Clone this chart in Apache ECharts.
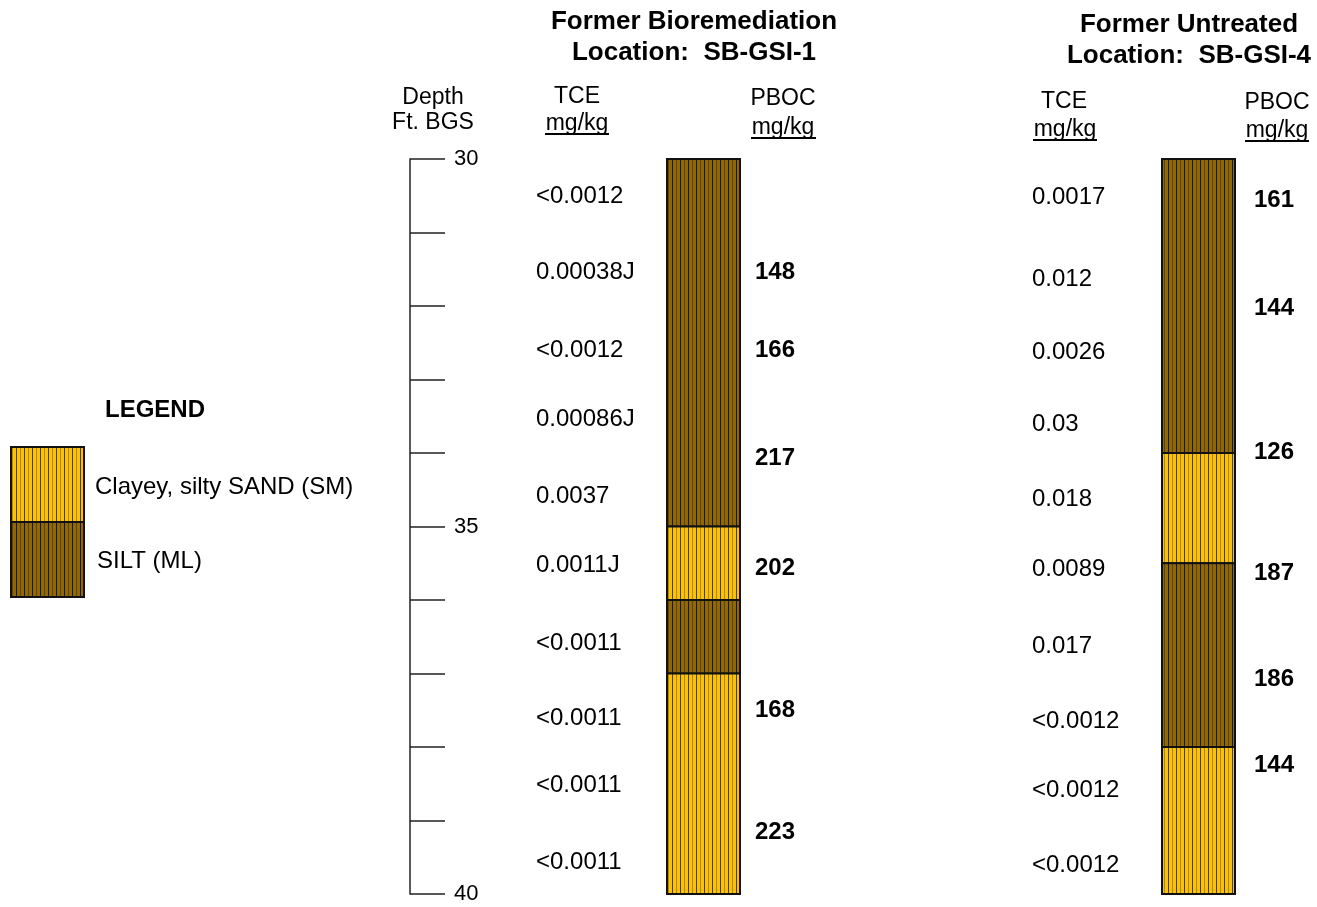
<!DOCTYPE html>
<html><head><meta charset="utf-8">
<script src="https://cdn.jsdelivr.net/npm/echarts@6/dist/echarts.min.js"></script>
<style>html,body{margin:0;padding:0;background:#fff}#c{width:1317px;height:907px}</style>
</head><body><div id="c"></div>
<script>
// ---------- data ----------
const depthMin = 30, depthMax = 40, depthStep = 1;
const depthLabels = ['30', '35', '40'];

const sb1LayerTop    = [30, 35, 36, 37];
const sb1LayerBottom = [35, 36, 37, 40];
const sb1LayerSoil   = ['ML', 'SM', 'ML', 'SM'];
const sb1TceDepth = [30.48, 31.52, 32.57, 33.52, 34.56, 35.50, 36.56, 37.58, 38.50, 39.54];
const sb1TceText  = ['<0.0012', '0.00038J', '<0.0012', '0.00086J', '0.0037', '0.0011J', '<0.0011', '<0.0011', '<0.0011', '<0.0011'];
const sb1PbocDepth = [31.52, 32.58, 34.04, 35.54, 37.47, 39.13];
const sb1PbocValue = [148, 166, 217, 202, 168, 223];

const sb4LayerTop    = [30, 34, 35.5, 38];
const sb4LayerBottom = [34, 35.5, 38, 40];
const sb4LayerSoil   = ['ML', 'SM', 'ML', 'SM'];
const sb4TceDepth = [30.50, 31.61, 32.61, 33.58, 34.61, 35.55, 36.61, 37.62, 38.56, 39.59];
const sb4TceText  = ['0.0017', '0.012', '0.0026', '0.03', '0.018', '0.0089', '0.017', '<0.0012', '<0.0012', '<0.0012'];
const sb4PbocDepth = [30.54, 32.01, 33.97, 35.61, 37.05, 38.22];
const sb4PbocValue = [161, 144, 126, 187, 186, 144];

const legendItems = ['Clayey, silty SAND (SM)', 'SILT (ML)'];

// ---------- layout / style ----------
const FONT = '"Liberation Sans", Arial, sans-serif';
const TY = 2; // vertical text nudge
const layout = {
  sb1: { colX0: 667, colX1: 740, tceX: 536, pbocX: 755 },
  sb4: { colX0: 1162, colX1: 1235, tceX: 1032, pbocX: 1254 }
};

function makePattern(base, line1, line2) {
  const c = document.createElement('canvas');
  c.width = 8; c.height = 4;
  const g = c.getContext('2d');
  g.fillStyle = base; g.fillRect(0, 0, 8, 4);
  g.fillStyle = line1; g.fillRect(0, 0, 1, 4);
  g.fillStyle = line2; g.fillRect(4, 0, 1, 4);
  return c;
}
const patCanvas = {
  SM: makePattern('#FFC000', '#5a4300', '#b88a00'),
  ML: makePattern('#936800', '#241900', '#624500')
};
function patFill(soil) { return { type: 'pattern', image: patCanvas[soil], repeat: 'repeat' }; }

function layerSeries(tops, bottoms, soils, lay) {
  return {
    type: 'custom',
    coordinateSystem: 'cartesian2d',
    silent: true,
    data: tops.map((t, i) => [t, bottoms[i], i]),
    renderItem: function (params, api) {
      const i = api.value(2);
      const p0 = api.coord([lay.colX0, api.value(0)]);
      const p1 = api.coord([lay.colX1, api.value(1)]);
      return {
        type: 'rect',
        shape: { x: p0[0], y: p0[1], width: p1[0] - p0[0], height: p1[1] - p0[1] },
        style: { fill: patFill(soils[i]), stroke: '#111', lineWidth: 2 }
      };
    }
  };
}

function textSeries(depths, texts, x, bold) {
  return {
    type: 'custom',
    coordinateSystem: 'cartesian2d',
    silent: true,
    data: depths.map((d, i) => [d, i]),
    renderItem: function (params, api) {
      const p = api.coord([x, api.value(0)]);
      return {
        type: 'text',
        x: p[0], y: p[1] + TY,
        style: {
          text: String(texts[api.value(1)]),
          fill: '#000',
          font: (bold ? 'bold ' : '') + '24px ' + FONT,
          align: 'left', verticalAlign: 'middle'
        }
      };
    }
  };
}

function gText(text, x, y, size, bold, align) {
  return {
    type: 'text', x: x, y: y + TY, silent: true,
    style: { text: text, fill: '#000', font: (bold ? 'bold ' : '') + size + 'px ' + FONT,
             align: align || 'center', verticalAlign: 'middle' }
  };
}
function gLine(x1, x2, y) {
  return { type: 'line', silent: true, shape: { x1: x1, y1: y, x2: x2, y2: y },
           style: { stroke: '#000', lineWidth: 2 } };
}

const chart = echarts.init(document.getElementById('c'), null, { renderer: 'canvas' });
chart.setOption({
  backgroundColor: '#fff',
  animation: false,
  grid: { left: 410, top: 159, width: 907, height: 735, containLabel: false },
  xAxis: { type: 'value', min: 410, max: 1317, show: false },
  yAxis: {
    type: 'value', inverse: true, min: depthMin, max: depthMax, interval: depthStep,
    position: 'left',
    axisLine: { show: true, lineStyle: { color: '#222', width: 1.5 } },
    axisTick: { show: true, inside: true, length: 35, lineStyle: { color: '#222', width: 1.5 } },
    splitLine: { show: false },
    axisLabel: {
      inside: true, margin: 44, color: '#000', fontSize: 22, fontFamily: FONT,
      formatter: v => depthLabels.includes(String(v)) ? String(v) : ''
    }
  },
  series: [
    layerSeries(sb1LayerTop, sb1LayerBottom, sb1LayerSoil, layout.sb1),
    layerSeries(sb4LayerTop, sb4LayerBottom, sb4LayerSoil, layout.sb4),
    textSeries(sb1TceDepth, sb1TceText, layout.sb1.tceX, false),
    textSeries(sb1PbocDepth, sb1PbocValue, layout.sb1.pbocX, true),
    textSeries(sb4TceDepth, sb4TceText, layout.sb4.tceX, false),
    textSeries(sb4PbocDepth, sb4PbocValue, layout.sb4.pbocX, true)
  ],
  graphic: [
    gText('Former Bioremediation', 694, 20, 26, true),
    gText('Location:  SB-GSI-1', 694, 51, 26, true),
    gText('Former Untreated', 1189, 23, 26, true),
    gText('Location:  SB-GSI-4', 1189, 54, 26, true),
    gText('Depth', 433, 96, 23, false),
    gText('Ft. BGS', 433, 121, 23, false),
    gText('TCE', 577, 95, 23, false),
    gText('mg/kg', 577, 122, 23, false), gLine(545, 609, 134),
    gText('PBOC', 783, 97, 23, false),
    gText('mg/kg', 783, 126, 23, false), gLine(751, 816, 138),
    gText('TCE', 1064, 100, 23, false),
    gText('mg/kg', 1065, 128, 23, false), gLine(1033, 1097, 140),
    gText('PBOC', 1277, 101, 23, false),
    gText('mg/kg', 1277, 129, 23, false), gLine(1245, 1309, 141),
    gText('LEGEND', 155, 408, 24, true),
    { type: 'rect', silent: true, shape: { x: 11, y: 447, width: 73, height: 75 },
      style: { fill: patFill('SM'), stroke: '#111', lineWidth: 2 } },
    { type: 'rect', silent: true, shape: { x: 11, y: 522, width: 73, height: 75 },
      style: { fill: patFill('ML'), stroke: '#111', lineWidth: 2 } },
    gText(legendItems[0], 95, 485, 24, false, 'left'),
    gText(legendItems[1], 97, 559, 24, false, 'left')
  ]
});
</script></body></html>
